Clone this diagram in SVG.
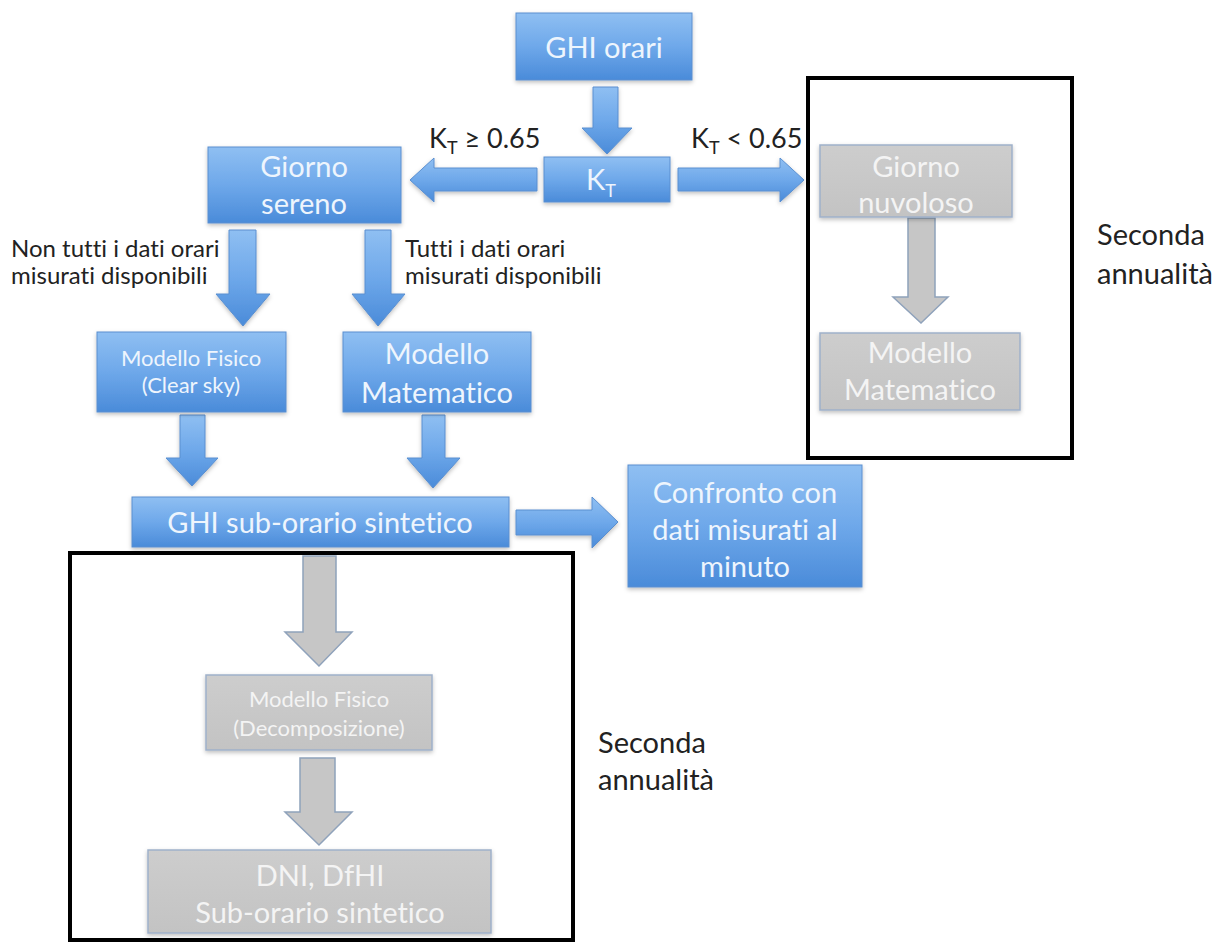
<svg xmlns="http://www.w3.org/2000/svg" width="1226" height="943" viewBox="0 0 1226 943">
<defs>
<linearGradient id="gBlue" x1="0" y1="0" x2="0" y2="1">
<stop offset="0" stop-color="#8fbff2"/>
<stop offset="0.5" stop-color="#6ea8ea"/>
<stop offset="1" stop-color="#4a8bd9"/>
</linearGradient>
<linearGradient id="gGray" x1="0" y1="0" x2="0" y2="1">
<stop offset="0" stop-color="#cdcdcd"/>
<stop offset="1" stop-color="#c3c3c3"/>
</linearGradient>
<filter id="sh" x="-10%" y="-10%" width="120%" height="130%">
<feDropShadow dx="0" dy="2" stdDeviation="2" flood-color="#000" flood-opacity="0.25"/>
</filter>
<style>
.bb{fill:url(#gBlue);stroke:#5a8fd0;stroke-width:1;filter:url(#sh)}
.gb{fill:url(#gGray);stroke:#9fb1ca;stroke-width:1.5;filter:url(#sh)}
.ba{fill:url(#gBlue);stroke:#5a8fd0;stroke-width:1;filter:url(#sh)}
.ga{fill:#c6c6c6;stroke:#8fa2bb;stroke-width:1.5}
.frame{fill:none;stroke:#000;stroke-width:4}
text{font-family:Lato,'Open Sans',sans-serif;font-variant-ligatures:none}
.wt{fill:#eef5fd;font-size:29px;text-anchor:middle}
.ws{fill:#eef5fd;font-size:22px;text-anchor:middle}
.gt{fill:#f4f4f4;font-size:29px;text-anchor:middle}
.gs{fill:#f4f4f4;font-size:22px;text-anchor:middle}
.lab{fill:#222;font-size:29px}
.lk{fill:#222;font-size:27px}
.lbs{fill:#222;font-size:24px}
</style>
</defs>
<rect width="1226" height="943" fill="#fff"/>

<g id="frames">
<rect class="frame" x="808" y="78" width="264" height="380"/>
<rect class="frame" x="70" y="553" width="503" height="387"/>
</g>

<g id="connectors">
<polygon class="ba" points="593,87 618,87 618,128 632,128 607,154 582,128 593,128"/>
<polygon class="ba" points="537,168 434,168 434,158 410,180 434,202 434,191 537,191"/>
<polygon class="ba" points="678,168 780,168 780,158 804,180 780,202 780,191 678,191"/>
<polygon class="ba" points="229,230 256,230 256,294 270,294 243,326 216,294 229,294"/>
<polygon class="ba" points="365,230 391,230 391,294 405,294 378,326 352,294 365,294"/>
<polygon class="ba" points="180,415 205,415 205,458 218,458 192,486 166,458 180,458"/>
<polygon class="ba" points="422,415 445,415 445,458 460,458 433,488 407,458 422,458"/>
<polygon class="ba" points="516,510 592,510 592,497 618,522 592,548 592,535 516,535"/>
<polygon class="ga" points="908,218 935,218 935,297 948,297 921,323 893,297 908,297"/>
<polygon class="ga" points="303,556 336,556 336,632 352,632 319,666 285,632 303,632"/>
<polygon class="ga" points="300,758 335,758 335,812 352,812 319,845 285,812 300,812"/>
</g>

<g id="labels">
<text class="lk" x="429" y="148">K<tspan dy="6" font-size="18">T</tspan><tspan dy="-6"> ≥ 0.65</tspan></text>
<text class="lk" x="691" y="148">K<tspan dy="6" font-size="18">T</tspan><tspan dy="-6"> &lt; 0.65</tspan></text>
<text class="lbs" x="11" y="257">Non tutti i dati orari</text>
<text class="lbs" x="11" y="284">misurati disponibili</text>
<text class="lbs" x="405" y="257">Tutti i dati orari</text>
<text class="lbs" x="405" y="284">misurati disponibili</text>
<text class="lab" x="1097" y="245">Seconda</text>
<text class="lab" x="1097" y="284">annualità</text>
<text class="lab" x="598" y="753">Seconda</text>
<text class="lab" x="598" y="790">annualità</text>
</g>

<g id="ghi-orari">
<rect class="bb" x="516" y="13" width="176" height="67"/>
<text class="wt" x="604" y="58">GHI orari</text>
</g>

<g id="kt">
<rect class="bb" x="544" y="157" width="126" height="45"/>
<text class="wt" x="601" y="190">K<tspan dy="7" font-size="18">T</tspan></text>
</g>

<g id="giorno-sereno">
<rect class="bb" x="208" y="147" width="193" height="76"/>
<text class="wt" x="304" y="177">Giorno</text>
<text class="wt" x="304" y="214">sereno</text>
</g>

<g id="giorno-nuvoloso">
<rect class="gb" x="820" y="145" width="192" height="72"/>
<text class="gt" x="916" y="177">Giorno</text>
<text class="gt" x="916" y="213">nuvoloso</text>
</g>

<g id="modello-matematico-2">
<rect class="gb" x="820" y="333" width="200" height="77"/>
<text class="gt" x="920" y="363">Modello</text>
<text class="gt" x="920" y="400">Matematico</text>
</g>

<g id="modello-fisico-clear">
<rect class="bb" x="97" y="332" width="189" height="80"/>
<text class="ws" x="191" y="366">Modello Fisico</text>
<text class="ws" x="191" y="393">(Clear sky)</text>
</g>

<g id="modello-matematico">
<rect class="bb" x="343" y="332" width="188" height="80"/>
<text class="wt" x="437" y="364">Modello</text>
<text class="wt" x="437" y="403">Matematico</text>
</g>

<g id="ghi-sub-orario">
<rect class="bb" x="132" y="497" width="377" height="50"/>
<text class="wt" x="320" y="533">GHI sub-orario sintetico</text>
</g>

<g id="confronto">
<rect class="bb" x="628" y="465" width="234" height="122"/>
<text class="wt" x="745" y="503">Confronto con</text>
<text class="wt" x="745" y="540">dati misurati al</text>
<text class="wt" x="745" y="577">minuto</text>
</g>

<g id="modello-fisico-decomp">
<rect class="gb" x="206" y="675" width="226" height="75"/>
<text class="gs" x="319" y="707">Modello Fisico</text>
<text class="gs" x="319" y="736">(Decomposizione)</text>
</g>

<g id="dni-dfhi">
<rect class="gb" x="148" y="850" width="343" height="83"/>
<text class="gt" x="320" y="886">DNI, DfHI</text>
<text class="gt" x="320" y="923">Sub-orario sintetico</text>
</g>
</svg>
